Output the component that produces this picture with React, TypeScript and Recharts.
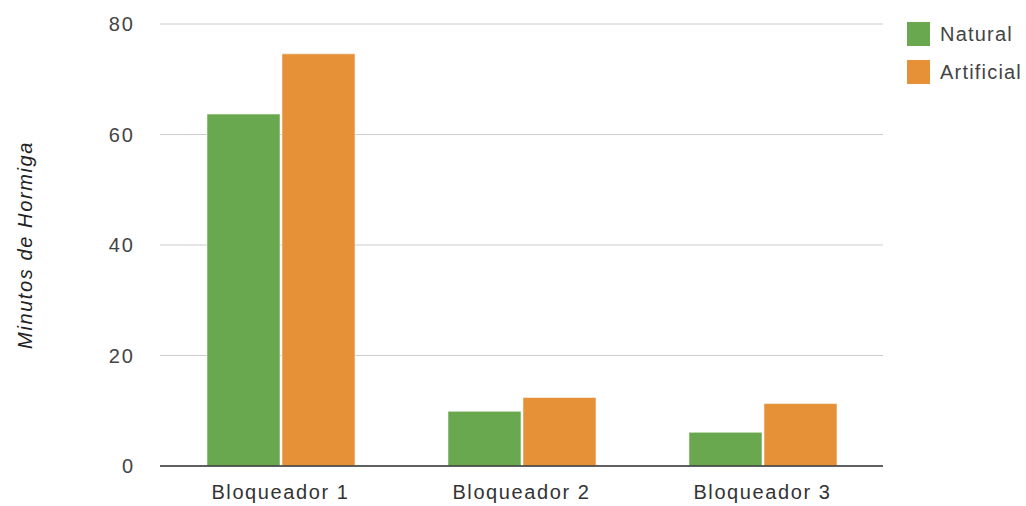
import { BarChart, Bar, XAxis, YAxis, CartesianGrid } from 'recharts'

const categories = ['Bloqueador 1', 'Bloqueador 2', 'Bloqueador 3']
const natural = [63.7, 9.9, 6.1]
const artificial = [74.6, 12.4, 11.3]
const yTicks = [0, 20, 40, 60, 80]

const series = [
  { key: 'natural', name: 'Natural', color: '#6aa84f' },
  { key: 'artificial', name: 'Artificial', color: '#e69138' },
]

const data = categories.map((name, i) => ({ name, natural: natural[i], artificial: artificial[i] }))

const font = '"Liberation Sans", Arial, sans-serif'

function LegendBox() {
  return (
    <div style={{ position: 'absolute', left: 907, top: 15, width: 119, fontFamily: font }}>
      {series.map((s) => (
        <div key={s.key} style={{ display: 'flex', alignItems: 'center', height: 38 }}>
          <div style={{ width: 23, height: 24, background: s.color }} />
          <span style={{ marginLeft: 10, fontSize: 20, letterSpacing: 1.2, color: '#444' }}>{s.name}</span>
        </div>
      ))}
    </div>
  )
}

export default function App() {
  return (
    <div style={{ position: 'absolute', left: 0, top: 0, width: 1026, height: 506, background: '#fff' }}>
      <BarChart
        width={1026}
        height={506}
        data={data}
        margin={{ top: 24, right: 143, bottom: 0, left: 0 }}
        barCategoryGap="19.5%"
        barGap={2}
      >
        <CartesianGrid vertical={false} stroke="#cccccc" />
        <XAxis
          dataKey="name"
          height={40}
          tickLine={false}
          tickSize={0}
          tickMargin={19}
          axisLine={{ stroke: '#333', strokeWidth: 1.5 }}
          tick={{ fill: '#333', fontSize: 20, fontFamily: font, letterSpacing: 1.6 }}
        />
        <YAxis
          width={160}
          domain={[0, 80]}
          ticks={yTicks}
          tickLine={false}
          axisLine={false}
          tickSize={0}
          tickMargin={25}
          tick={{ fill: '#444', fontSize: 20, fontFamily: font, letterSpacing: 2 }}
          label={{
            value: 'Minutos de Hormiga',
            angle: -90,
            position: 'center',
            dx: -55,
            style: { fill: '#222', fontSize: 20, fontStyle: 'italic', fontFamily: font, letterSpacing: 1.6, textAnchor: 'middle' },
          }}
        />
        {series.map((s) => (
          <Bar
            key={s.key}
            dataKey={s.key}
            name={s.name}
            fill={s.color}
            stroke="#ffffff"
            strokeOpacity={0.5}
            strokeWidth={1}
            isAnimationActive={false}
          />
        ))}
      </BarChart>
      <LegendBox />
    </div>
  )
}
